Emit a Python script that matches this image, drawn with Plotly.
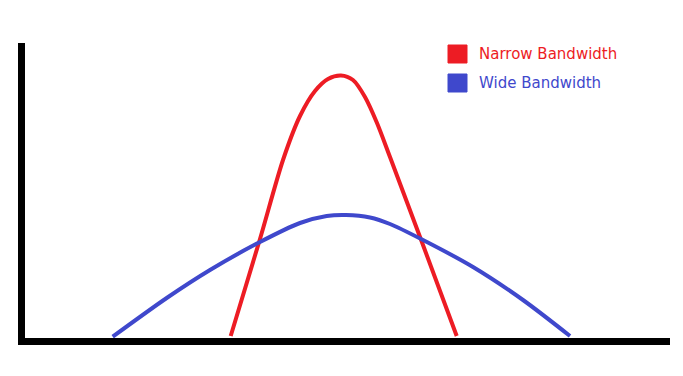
import plotly.graph_objects as go

# Data (x in pixel-like units, height above baseline)
narrow_x = [230.7, 260, 283, 300, 315, 328, 341, 353, 365, 377, 390, 423, 456.7]
narrow_h = [2, 99, 178, 222, 247, 259, 262.5, 258, 241, 215, 181, 93, 2]
wide_x = [112.7, 166.7, 210, 260, 300, 326.7, 346, 370, 390, 423, 473, 523, 570]
wide_h = [1.3, 40, 68, 96, 115, 122, 123, 120.5, 114, 98, 71, 38, 2]
series_names = ["Narrow Bandwidth", "Wide Bandwidth"]
series_colors = ["#ED1C24", "#3F48CC"]

W, H = 683, 376
OFF = 8  # default page body margin
# absolute pixel positions of plot area
L_abs, R_abs, T_abs, B_abs = 25, 670, 43, 338
pw, ph = R_abs - L_abs, B_abs - T_abs

fig = go.Figure()
fig.add_trace(go.Scatter(x=narrow_x, y=narrow_h, mode="lines",
                         line=dict(color=series_colors[0], width=4, shape="spline", smoothing=0.8),
                         name=series_names[0], showlegend=False))
fig.add_trace(go.Scatter(x=wide_x, y=wide_h, mode="lines",
                         line=dict(color=series_colors[1], width=4, shape="spline", smoothing=0.8),
                         name=series_names[1], showlegend=False))

def px(x):
    return (x - L_abs) / pw
def py(y):
    return 1 - (y - T_abs) / ph

legend_rows = [54, 83]
for name, col, yc in zip(series_names, series_colors, legend_rows):
    fig.add_shape(type="rect", xref="paper", yref="paper", x0=px(448), x1=px(467), y0=py(yc + 9), y1=py(yc - 9),
                  fillcolor=col, line=dict(color=col, width=1))
    fig.add_annotation(xref="paper", yref="paper", x=px(477), y=py(yc), text=name, showarrow=False,
                       xanchor="left", yanchor="middle",
                       font=dict(family="DejaVu Sans", size=15, color=col))

fig.update_layout(
    width=W - 2 * OFF, height=H - 2 * OFF,
    margin=dict(l=L_abs - OFF, r=W - R_abs - OFF, t=T_abs - OFF, b=H - B_abs - OFF, pad=0),
    plot_bgcolor="white", paper_bgcolor="white",
    xaxis=dict(range=[L_abs, R_abs], showgrid=False, zeroline=False, showticklabels=False, ticks="",
               showline=True, linecolor="black", linewidth=7),
    yaxis=dict(range=[0, ph], showgrid=False, zeroline=False, showticklabels=False, ticks="",
               showline=True, linecolor="black", linewidth=7),
)
fig.write_html("out.html")
